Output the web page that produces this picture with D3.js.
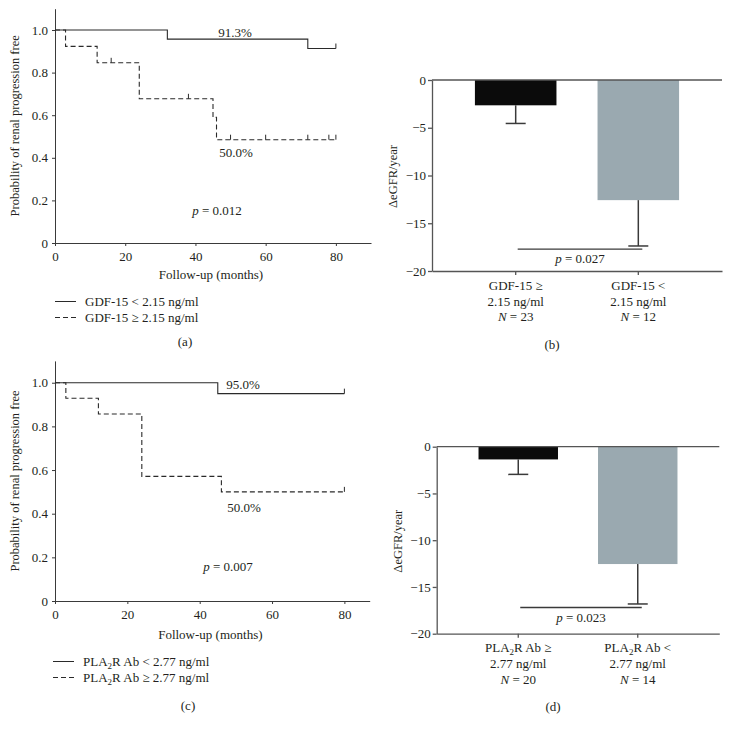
<!DOCTYPE html>
<html>
<head>
<meta charset="utf-8">
<script src="https://cdn.jsdelivr.net/npm/d3@7"></script>
<style>
  html, body { margin: 0; padding: 0; background: #fff; }
  svg { display: block; }
  text { font-family: "Liberation Serif", "DejaVu Serif", serif; fill: #231f20; }
</style>
</head>
<body>
<svg id="chart" width="730" height="732"></svg>
<script>
// ---------- DATA ----------
const kmTicksX = [0, 20, 40, 60, 80];
const kmTicksY = [0, 0.2, 0.4, 0.6, 0.8, 1.0];
const barTicksY = [0, -5, -10, -15, -20];

// Panel (a): GDF-15
const gdfLowTimes = [0, 32, 72, 80];
const gdfLowSurv = [1.0, 0.957, 0.913, 0.913];
const gdfLowCensor = [80];
const gdfHighTimes = [0, 3, 12, 24, 45, 46, 80];
const gdfHighSurv = [1.0, 0.923, 0.846, 0.677, 0.59, 0.485, 0.485];
const gdfHighCensor = [16, 38, 50, 60, 72, 78, 80];
const gdfLegend = ["GDF-15 < 2.15 ng/ml", "GDF-15 ≥ 2.15 ng/ml"];
const gdfKmLabels = ["91.3%", "50.0%", "0.012"];

// Panel (c): PLA2R Ab
const plaLowTimes = [0, 45, 80];
const plaLowSurv = [1.0, 0.95, 0.95];
const plaLowCensor = [80];
const plaHighTimes = [0, 3, 12, 24, 46, 80];
const plaHighSurv = [1.0, 0.929, 0.857, 0.571, 0.5, 0.5];
const plaHighCensor = [80];
const plaLegend = [["PLA", "2", "R Ab < 2.77 ng/ml"], ["PLA", "2", "R Ab ≥ 2.77 ng/ml"]];
const plaKmLabels = ["95.0%", "50.0%", "0.007"];

// Panel (b): ΔeGFR by GDF-15
const gdfBarCats = [["GDF-15 ≥", "2.15 ng/ml", "23"], ["GDF-15 <", "2.15 ng/ml", "12"]];
const gdfBarMeans = [-2.65, -12.58];
const gdfBarErr = [1.9, 4.8];
const gdfP = "0.027";
const gdfPLevel = -17.7;

// Panel (d): ΔeGFR by PLA2R Ab
const plaBarCats = [["PLA|2|R Ab ≥", "2.77 ng/ml", "20"], ["PLA|2|R Ab <", "2.77 ng/ml", "14"]];
const plaBarMeans = [-1.36, -12.55];
const plaBarErr = [1.6, 4.27];
const plaP = "0.023";
const plaPLevel = -17.2;

const barColors = ["#0b0b0b", "#9aa9b0"];

// ---------- DRAWING ----------
const svg = d3.select("#chart");
const ink = "#231f20";
const axisCol = "#3a3a3a";

function styleAxis(g) {
  g.selectAll("path.domain").attr("stroke", axisCol).attr("stroke-width", 1);
  g.selectAll(".tick line").attr("stroke", axisCol).attr("stroke-width", 1);
  g.selectAll(".tick text").attr("font-family", "Liberation Serif, serif").attr("font-size", 13).attr("fill", ink);
}

function survAt(times, surv, t) {
  let s = surv[0];
  for (let i = 0; i < times.length; i++) if (times[i] <= t) s = surv[i];
  return s;
}

function drawKM(cfg) {
  const g = svg.append("g");
  const x = d3.scaleLinear().domain([0, cfg.xMax]).range([cfg.x0, cfg.x1]);
  const y = d3.scaleLinear().domain([0, 1.1]).range([cfg.y0, cfg.y1]);

  const xa = g.append("g").attr("transform", `translate(0,${cfg.y0})`)
    .call(d3.axisBottom(x).tickValues(kmTicksX).tickSize(3).tickSizeOuter(0).tickPadding(6).tickFormat(d3.format("d")));
  styleAxis(xa);
  const ya = g.append("g").attr("transform", `translate(${cfg.x0},0)`)
    .call(d3.axisLeft(y).tickValues(kmTicksY).tickSize(3).tickSizeOuter(0).tickPadding(4)
      .tickFormat(d => d === 0 ? "0" : d3.format(".1f")(d)));
  styleAxis(ya);

  g.append("text").attr("x", (cfg.x0 + cfg.x1) / 2 - 2).attr("y", cfg.y0 + cfg.titleDy)
    .attr("text-anchor", "middle").attr("font-size", 13).text("Follow-up (months)");
  g.append("text").attr("transform", `translate(${cfg.x0 - 36},${(cfg.y0 + cfg.y1) / 2}) rotate(-90)`)
    .attr("text-anchor", "middle").attr("font-size", 12.5).text("Probability of renal progression free");

  const line = d3.line().x(d => x(d[0])).y(d => y(d[1])).curve(d3.curveStepAfter);
  cfg.curves.forEach(c => {
    const pts = c.times.map((t, i) => [t, c.surv[i]]);
    g.append("path").attr("d", line(pts)).attr("fill", "none").attr("stroke", "#2a2a2a")
      .attr("stroke-width", 1.1).attr("stroke-dasharray", c.dash ? "5,3" : null);
    c.censor.forEach(t => {
      const s = survAt(c.times, c.surv, t);
      g.append("line").attr("x1", x(t)).attr("x2", x(t)).attr("y1", y(s)).attr("y2", y(s) - 5)
        .attr("stroke", "#2a2a2a").attr("stroke-width", 1);
    });
  });

  cfg.labels.forEach(l => {
    g.append("text").attr("x", l.x).attr("y", l.y).attr("text-anchor", "middle").attr("font-size", 13).text(l.t);
  });
  const pt = g.append("text").attr("x", cfg.p.x).attr("y", cfg.p.y).attr("text-anchor", "middle").attr("font-size", 13);
  pt.append("tspan").attr("font-style", "italic").text("p");
  pt.append("tspan").text(" = " + cfg.p.t);

  // legend
  cfg.legend.forEach((lg, i) => {
    const ly = cfg.legY + i * 16;
    g.append("line").attr("x1", cfg.legX).attr("x2", cfg.legX + 21).attr("y1", ly).attr("y2", ly)
      .attr("stroke", "#2a2a2a").attr("stroke-width", 1).attr("stroke-dasharray", i === 1 ? "5,3" : null);
    const t = g.append("text").attr("x", cfg.legX + 30).attr("y", ly + 4.5).attr("font-size", 13);
    if (Array.isArray(lg)) {
      t.append("tspan").text(lg[0]);
      t.append("tspan").attr("font-size", 9).attr("dy", 3).text(lg[1]);
      t.append("tspan").attr("dy", -3).text(lg[2]);
    } else t.text(lg);
  });
  g.append("text").attr("x", cfg.tag.x).attr("y", cfg.tag.y).attr("text-anchor", "middle").attr("font-size", 13).text(cfg.tag.t);
}

function drawBars(cfg) {
  const g = svg.append("g");
  const x = d3.scaleBand().domain([0, 1]).range([cfg.x0, cfg.x1]).paddingInner(0.335).paddingOuter(0.35);
  const y = d3.scaleLinear().domain([-20, 0]).range([cfg.y0, cfg.y1]);

  // bars
  cfg.means.forEach((m, i) => {
    const bx = x(i), bw = x.bandwidth(), cx = bx + bw / 2;
    g.append("rect").attr("x", bx).attr("y", y(0)).attr("width", bw).attr("height", y(m) - y(0)).attr("fill", barColors[i]);
    const e = m - cfg.err[i];
    g.append("line").attr("x1", cx).attr("x2", cx).attr("y1", y(m)).attr("y2", y(e)).attr("stroke", "#3a3a3a").attr("stroke-width", 1.5);
    g.append("line").attr("x1", cx - 10).attr("x2", cx + 10).attr("y1", y(e)).attr("y2", y(e)).attr("stroke", "#3a3a3a").attr("stroke-width", 1.5);
  });

  // zero line & bottom axis
  g.append("line").attr("x1", cfg.x0).attr("x2", cfg.x1).attr("y1", y(0)).attr("y2", y(0)).attr("stroke", "#555").attr("stroke-width", 1.3);
  const xa = g.append("g").attr("transform", `translate(0,${cfg.y0})`)
    .call(d3.axisBottom(x).tickSize(4).tickSizeOuter(0).tickFormat(""));
  xa.selectAll("path.domain").attr("stroke", "#555").attr("stroke-width", 1.3);
  xa.selectAll(".tick line").attr("stroke", "#555").attr("stroke-width", 1.3);
  const ya = g.append("g").attr("transform", `translate(${cfg.x0},0)`)
    .call(d3.axisLeft(y).tickValues(barTicksY).tickSize(4).tickSizeOuter(0).tickPadding(2)
      .tickFormat(d => d === 0 ? "0" : "−" + Math.abs(d)));
  styleAxis(ya);
  ya.selectAll("path.domain").attr("stroke", "#555").attr("stroke-width", 1.3);
  ya.selectAll(".tick line").attr("stroke", "#555").attr("stroke-width", 1.3);

  g.append("text").attr("transform", `translate(${cfg.x0 - 35},${(cfg.y0 + cfg.y1) / 2 + 1}) rotate(-90)`)
    .attr("text-anchor", "middle").attr("font-size", 12.5).text("ΔeGFR/year");

  // p-value bracket
  const c0 = x(0) + x.bandwidth() / 2, c1 = x(1) + x.bandwidth() / 2;
  g.append("line").attr("x1", c0 + 2).attr("x2", c1 + 4).attr("y1", y(cfg.pLevel)).attr("y2", y(cfg.pLevel))
    .attr("stroke", "#3a3a3a").attr("stroke-width", 1.3);
  const pt = g.append("text").attr("x", (c0 + c1) / 2 + 3).attr("y", y(cfg.pLevel) + 14).attr("text-anchor", "middle").attr("font-size", 13);
  pt.append("tspan").attr("font-style", "italic").text("p");
  pt.append("tspan").text(" = " + cfg.p);

  // category labels
  cfg.cats.forEach((c, i) => {
    const cx = x(i) + x.bandwidth() / 2;
    const base = cfg.y0 + 18.5;
    const t0 = g.append("text").attr("x", cx).attr("y", base).attr("text-anchor", "middle").attr("font-size", 13);
    const parts = c[0].split("|");
    if (parts.length === 3) {
      t0.append("tspan").text(parts[0]);
      t0.append("tspan").attr("font-size", 9).attr("dy", 3).text(parts[1]);
      t0.append("tspan").attr("dy", -3).text(parts[2]);
    } else t0.text(c[0]);
    g.append("text").attr("x", cx).attr("y", base + 16).attr("text-anchor", "middle").attr("font-size", 13).text(c[1]);
    const t2 = g.append("text").attr("x", cx).attr("y", base + 31.5).attr("text-anchor", "middle").attr("font-size", 13);
    t2.append("tspan").attr("font-style", "italic").text("N");
    t2.append("tspan").text(" = " + c[2]);
  });
  g.append("text").attr("x", cfg.tag.x).attr("y", cfg.tag.y).attr("text-anchor", "middle").attr("font-size", 13).text(cfg.tag.t);
}

drawKM({
  x0: 55, x1: 371, xMax: 90, y0: 243, y1: 8.7, titleDy: 36,
  curves: [
    { times: gdfLowTimes, surv: gdfLowSurv, censor: gdfLowCensor, dash: false },
    { times: gdfHighTimes, surv: gdfHighSurv, censor: gdfHighCensor, dash: true }
  ],
  labels: [{ x: 235, y: 36.5, t: gdfKmLabels[0] }, { x: 236, y: 156.5, t: gdfKmLabels[1] }],
  p: { x: 217, y: 214.5, t: gdfKmLabels[2] },
  legend: gdfLegend, legX: 55, legY: 301.5,
  tag: { x: 185, y: 346, t: "(a)" }
});

drawKM({
  x0: 55, x1: 369.7, xMax: 87, y0: 601, y1: 360.9, titleDy: 38,
  curves: [
    { times: plaLowTimes, surv: plaLowSurv, censor: plaLowCensor, dash: false },
    { times: plaHighTimes, surv: plaHighSurv, censor: plaHighCensor, dash: true }
  ],
  labels: [{ x: 243, y: 388.5, t: plaKmLabels[0] }, { x: 244, y: 511.5, t: plaKmLabels[1] }],
  p: { x: 228, y: 571, t: plaKmLabels[2] },
  legend: plaLegend, legX: 53, legY: 661.5,
  tag: { x: 188, y: 710, t: "(c)" }
});

drawBars({
  x0: 432, x1: 722, y0: 271, y1: 80,
  means: gdfBarMeans, err: gdfBarErr, cats: gdfBarCats, p: gdfP, pLevel: gdfPLevel,
  tag: { x: 552, y: 348.5, t: "(b)" }
});

drawBars({
  x0: 436.7, x1: 719.3, y0: 633.7, y1: 446.7,
  means: plaBarMeans, err: plaBarErr, cats: plaBarCats, p: plaP, pLevel: plaPLevel,
  tag: { x: 553, y: 711, t: "(d)" }
});
</script>
</body>
</html>
